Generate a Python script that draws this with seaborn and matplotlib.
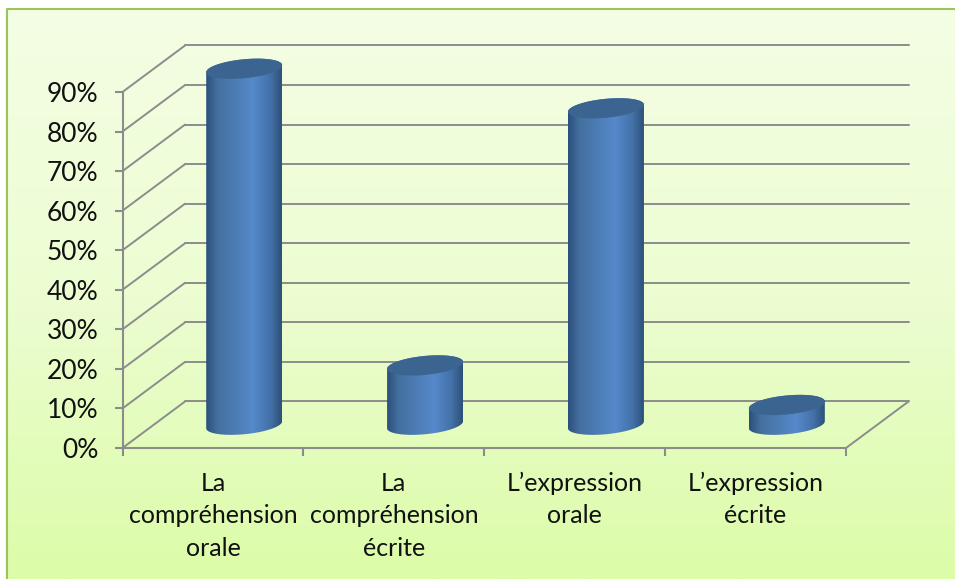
import numpy as np
import pandas as pd
import matplotlib
matplotlib.use("Agg")
import matplotlib.pyplot as plt
import seaborn as sns
from matplotlib.colors import LinearSegmentedColormap
from matplotlib.patches import PathPatch, Polygon
from matplotlib.path import Path

categories = ["La\ncompréhension\norale", "La\ncompréhension\nécrite",
              "L’expression\norale", "L’expression\nécrite"]
values = [90, 15, 80, 5]
y_ticks = [0, 10, 20, 30, 40, 50, 60, 70, 80, 90]

GREY = "#8c8c8c"
DEPTH_X = 62.5 / 180.75
DEPTH_Y = 46.5 / 3.955

sns.set_theme(style="white")
plt.rcParams["font.family"] = ["Lato", "DejaVu Sans"]

W, H = 955, 579
fig = plt.figure(figsize=(W / 100, H / 100), dpi=100, facecolor="white")


def px_axes(x0, y0, x1, y1):
    return [x0 / W, 1 - y1 / H, (x1 - x0) / W, (y1 - y0) / H]


# fond en degrade
bg = fig.add_axes([0, 0, 1, 1], zorder=0)
bg.axis("off")
bg_cmap = LinearSegmentedColormap.from_list("bg", ["#f4fee4", "#ecfdd2", "#dcfca8"])
bg.imshow(np.linspace(0, 1, 256).reshape(-1, 1), cmap=bg_cmap, aspect="auto",
          extent=[7, W, H, 9])
bg.plot([6, 6], [9, H], color="#a9a9a9", lw=0.8)
bg.plot([W, 7, 7], [9, 9, H], color="#9bc45a", lw=1.5)
bg.set_xlim(0, W)
bg.set_ylim(H, 0)

ax = fig.add_axes(px_axes(122.5, 92, 846, 448), zorder=1)
ax.patch.set_alpha(0)

df = pd.DataFrame({"cat": categories, "val": values})
sns.barplot(data=df, x="cat", y="val", ax=ax, width=0.42, color="#4f81bd")

ax.set_xlim(-0.5, 3.5)
ax.set_ylim(0, 90)
ax.set_xlabel("")
ax.set_ylabel("")

# parois : grille arriere et diagonales
for v in y_ticks:
    ax.plot([-0.5, -0.5 + DEPTH_X], [v, v + DEPTH_Y], color=GREY, lw=1.4, clip_on=False, zorder=1)
    ax.plot([-0.5 + DEPTH_X, 3.5 + DEPTH_X], [v + DEPTH_Y, v + DEPTH_Y], color=GREY, lw=1.4,
            clip_on=False, zorder=1)
ax.plot([3.5, 3.5 + DEPTH_X], [0, DEPTH_Y], color=GREY, lw=1.4, clip_on=False, zorder=1)

# cylindres
body_cmap = LinearSegmentedColormap.from_list(
    "body", [(0, "#2b4f7c"), (0.15, "#44709f"), (0.62, "#5689cb"), (0.85, "#4372a8"), (1, "#2d5078")])
A_H = 9.5 / 3.955
SHEAR = 3.5 / 3.955
t = np.linspace(0, 2 * np.pi, 100)

for bar in list(ax.patches):
    left, w, h = bar.get_x(), bar.get_width(), bar.get_height()
    bar.set_visible(False)
    cx = left + w / 2 + DEPTH_X / 2
    base = DEPTH_Y / 2
    top = base + h
    a = w / 2

    # contour du corps : demi-ellipse basse puis demi-ellipse haute
    tb = np.linspace(np.pi, 2 * np.pi, 50)
    low = np.c_[cx + a * np.cos(tb), base + A_H * np.sin(tb) + SHEAR * np.cos(tb)]
    tt = np.linspace(0, np.pi, 50)
    up = np.c_[cx + a * np.cos(tt), top + A_H * np.sin(tt) + SHEAR * np.cos(tt)]
    outline = np.vstack([low, up, low[:1]])
    clip = PathPatch(Path(outline), transform=ax.transData, facecolor="none", edgecolor="none",
                     clip_on=False)
    ax.add_patch(clip)
    body = ax.imshow(np.linspace(0, 1, 256).reshape(1, -1), cmap=body_cmap, aspect="auto",
                     extent=[cx - a, cx + a, base - 15, top + 15], zorder=3)
    body.set_clip_box(fig.bbox)
    body.set_clip_path(clip)

    cap = np.c_[cx + a * np.cos(t), top + A_H * np.sin(t) + SHEAR * np.cos(t)]
    ax.add_patch(Polygon(cap, closed=True, facecolor="#3b6491", edgecolor="none", zorder=4,
                         clip_on=False))

ax.set_xlim(-0.5, 3.5)
ax.set_ylim(0, 90)
ax.set_aspect("auto")

sns.despine(ax=ax, top=True, right=True)
for s in ["left", "bottom"]:
    ax.spines[s].set_color(GREY)
    ax.spines[s].set_linewidth(1.5)

ax.set_yticks(y_ticks)
ax.set_yticklabels([f"{v}%" for v in y_ticks])
ax.set_xticks(range(4))
ax.set_xticklabels(categories, linespacing=1.5)
ax.set_xticks(np.arange(-0.5, 4), minor=True)
ax.tick_params(axis="y", left=True, length=6, width=1.5, color=GREY, labelsize=19,
               labelcolor="#111111", pad=11.5)
ax.tick_params(axis="x", which="major", bottom=False, length=0, labelsize=18,
               labelcolor="#111111", pad=17)
ax.tick_params(axis="x", which="minor", bottom=True, length=6, width=1.5, color=GREY)

fig.savefig("out.png", dpi=100)
